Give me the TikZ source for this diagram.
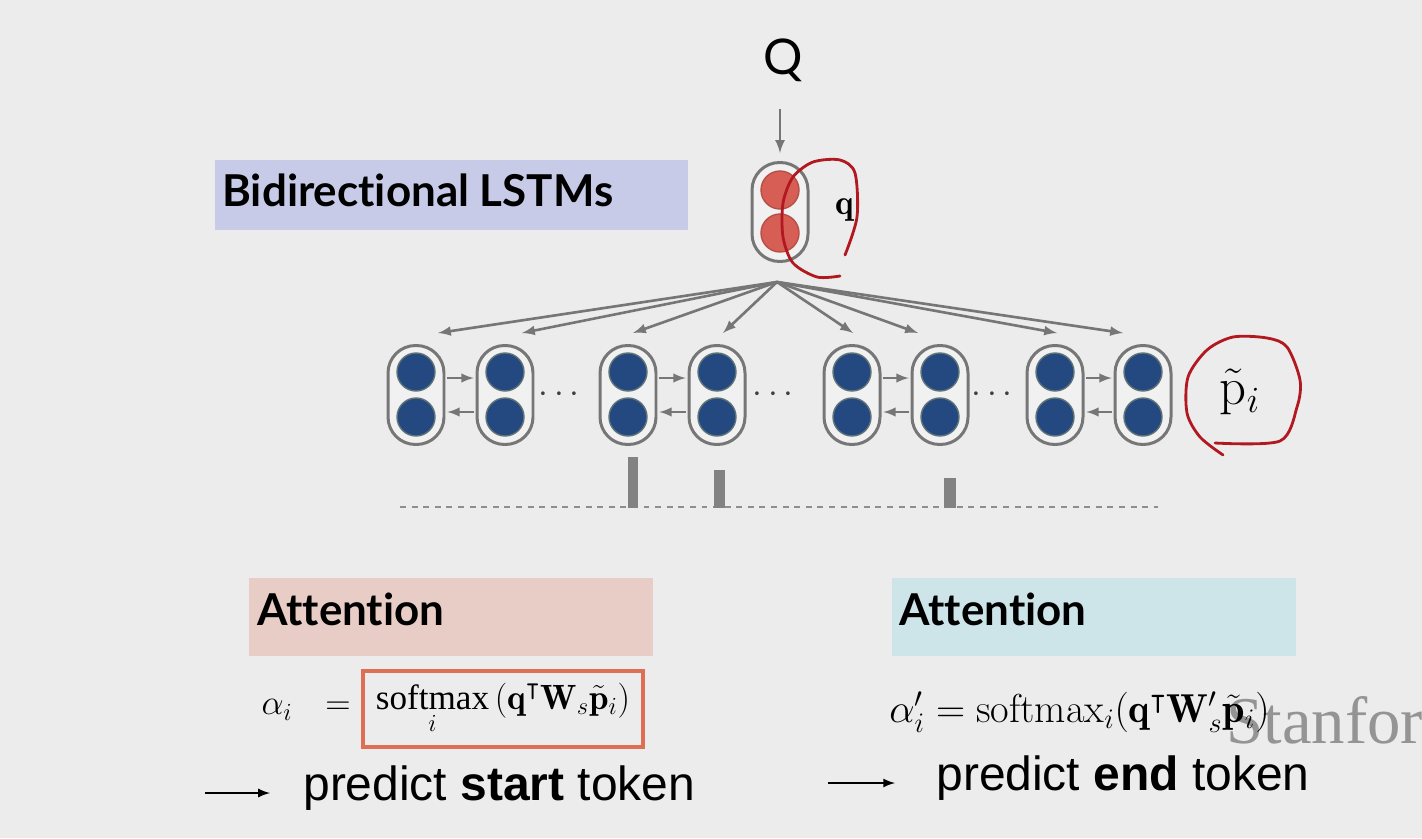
\RequirePackage{fix-cm}
\documentclass[tikz,border=0pt]{standalone}
\usepackage{amsmath}
\usepackage{amssymb}
\usepackage{fontspec}
\newfontfamily\latofont[Ligatures=NoCommon]{Lato}
\newfontfamily\helvfont{Liberation Sans}
\newfontfamily\serfont{Liberation Serif}
\usepackage{xcolor}
\usepackage{tikz}
\usetikzlibrary{positioning}
\definecolor{bgray}{RGB}{236,236,236}
\definecolor{lav}{RGB}{199,203,232}
\definecolor{pinkbox}{RGB}{231,205,197}
\definecolor{bluebox}{RGB}{205,228,233}
\definecolor{boxred}{RGB}{222,110,84}
\definecolor{cellgray}{RGB}{118,118,118}
\definecolor{cellfill}{RGB}{241,241,241}
\definecolor{unitblue}{RGB}{36,72,128}
\definecolor{unitline}{RGB}{95,115,118}
\definecolor{qred}{RGB}{214,94,84}
\definecolor{arrgray}{RGB}{118,118,118}
\definecolor{penred}{RGB}{178,24,32}
\definecolor{bargray}{RGB}{130,130,130}
\definecolor{stgray}{RGB}{148,148,148}

\begin{document}
\begin{tikzpicture}[x=0.02cm,y=-0.02cm,
    cell/.style={draw=cellgray,line width=1.7pt,fill=cellfill,rounded corners=0.55cm,
        minimum width=1.12cm,minimum height=1.98cm,inner sep=0pt},
    unit/.style={circle,draw=unitline,line width=0.8pt,fill=unitblue,minimum size=0.76cm,inner sep=0pt},
    qunit/.style={unit,fill=qred,draw=qred!85!black},
    arr/.style={draw=arrgray,line width=1.5pt,-latex},
    harr/.style={draw=arrgray,line width=1.4pt,-latex,shorten <=1pt,shorten >=1pt},
    pen/.style={draw=penred,line width=1.6pt,line cap=round,line join=round},
    title/.style={font=\latofont\bfseries\fontsize{25}{30}\selectfont,anchor=west,inner sep=0pt},
    pred/.style={font=\helvfont\fontsize{27.3}{32}\selectfont,anchor=base west,inner sep=0pt},
    dots/.style={font=\fontsize{20}{22}\selectfont,text=black!75},
    eq/.style={font=\fontsize{20}{24}\selectfont,inner sep=0pt}]
		\fill[bgray] (0,0) rectangle (1422,838);
		\useasboundingbox (0,0) rectangle (1422,838);

		% coloured headers
		\node[fill=lav,minimum width=9.46cm,minimum height=1.4cm] (lstmbox) at (451.5,195) {};
		\node[title] (lstm) at (222,190) {Bidirectional LSTMs};
		\node[fill=pinkbox,minimum width=8.08cm,minimum height=1.56cm] (attbox1) at (451,617) {};
		\node[title] (att1) at (257,609) {Attention};
		\node[fill=bluebox,minimum width=8.08cm,minimum height=1.56cm] (attbox2) at (1094,617) {};
		\node[title] (att2) at (899,609) {Attention};

		% question vector
		\node[font=\latofont\fontsize{28}{32}\selectfont,inner sep=0pt] (Q) at (783,60) {Q};
		\node[cell] (qc) at (780,212) {};
		\node[qunit] (qct) at ([yshift=0.44cm]qc.center) {};
		\node[qunit] (qcb) at ([yshift=-0.42cm]qc.center) {};
		\node[font=\fontsize{20}{22}\selectfont] (ql) at (845,210) {$\mathbf{q}$};
		\draw[arr,shorten <=0.55cm,shorten >=0.16cm] (qc.north |- Q.south) -- (qc.north);

		% passage cells
		\foreach \x [count=\i] in {416,505,628,717,852,940,1055,1143}{
			\node[cell] (c\i) at (\x,395) {};
			\node[unit] (c\i t) at ([yshift=0.46cm]c\i.center) {};
			\node[unit] (c\i b) at ([yshift=-0.44cm]c\i.center) {};
		}
		\foreach \l/\r in {1/2,3/4,5/6,7/8}{
			\draw[harr] ([yshift=0.34cm]c\l.east) -- ([yshift=0.34cm]c\r.west);
			\draw[harr] ([yshift=-0.34cm]c\r.west) -- ([yshift=-0.34cm]c\l.east);
		}
		\node[dots] (d1) at (562,395) {$\cdots$};
		\node[dots] (d2) at (776,395) {$\cdots$};
		\node[dots] (d3) at (995,395) {$\cdots$};
		\node[font=\fontsize{30}{34}\selectfont] (pt) at (1240,392) {$\tilde{\mathrm{p}}_i$};

		% fan out
		\coordinate (fan) at (777,282);
		\foreach \tx [count=\i] in {438,522,633,723,853,918,1057,1123}{
			\coordinate (t\i) at (\tx,333);
			\draw[arr] (fan) -- (t\i);
		}

		% attention bars
		\draw[draw=bargray!90,line width=1.1pt,dash pattern=on 3.4pt off 3.2pt] (400,507) -- (1158,507);
		\fill[bargray] (628,457) rectangle (638,508);
		\fill[bargray] (714,470) rectangle (725,508);
		\fill[bargray] (944,478) rectangle (956,508);

		% watermark
		\begin{scope}
			\clip (0,0) rectangle (1422,838);
			\node[font=\serfont\fontsize{38}{42}\selectfont,text=stgray,anchor=base west,inner sep=0pt] (stan) at (1226,743) {Stanford};
		\end{scope}

		% formulas
		\node[eq] (al) at (277,710) {$\alpha_i$};
		\node[eq] (eqs) at (338,708) {$=$};
		\node[eq,draw=boxred,line width=2.8pt,minimum width=5.6cm,minimum height=1.52cm] (sbox) at (503,709)
			{$\displaystyle\mathop{\text{\serfont softmax}}\limits_i\,(\mathbf{q}^{\intercal}\mathbf{W}_s\tilde{\mathbf{p}}_i)$};
		\node[eq,font=\fontsize{23}{26}\selectfont,anchor=west] (ae) at (889,712)
			{$\alpha'_i = \mathrm{softmax}_i(\mathbf{q}^{\intercal}\mathbf{W}'_s\tilde{\mathbf{p}}_i)$};

		% predictions
		\node[pred] (start) at (303,800) {predict \textbf{start} token};
		\node[pred] (end) at (936,790) {predict \textbf{end} token};
		\coordinate (ls) at (205,793);
		\coordinate (le) at (828,783);
		\draw[-latex,line width=1.3pt,shorten >=0.66cm] (ls) -- (ls -| start.west);
		\draw[-latex,line width=1.3pt,shorten >=0.82cm] (le) -- (le -| end.west);

		% pen marks
		\draw[pen] plot[smooth] coordinates {(845,255) (857,217) (855,173) (840,160) (813,162) (793,177) (783,203) (783,237) (793,263) (817,277) (840,276)};
		\draw[pen] plot[smooth] coordinates {(1215,443) (1280,441) (1297,407) (1300,380) (1287,347) (1267,338) (1233,337) (1207,350) (1188,377) (1187,413) (1200,437) (1223,455)};
\end{tikzpicture}
\end{document}
